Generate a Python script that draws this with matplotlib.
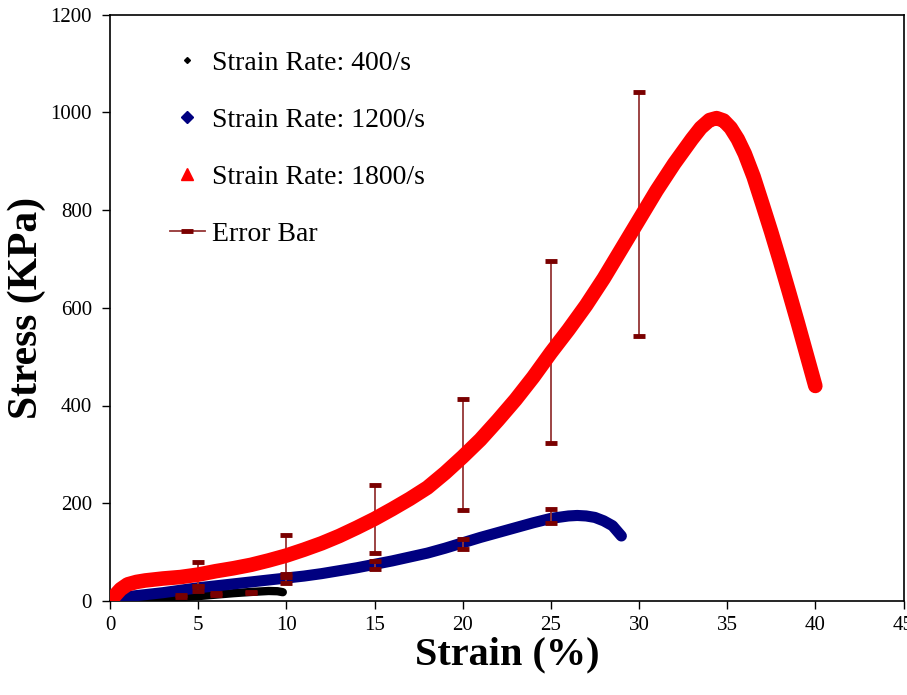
import matplotlib
matplotlib.use("Agg")
import matplotlib.pyplot as plt
from matplotlib.lines import Line2D

# Strain (%) / stress (KPa) curves for three strain rates
strain_400 = [0, 1, 2, 3, 4, 5, 6, 7, 8, 9, 9.5, 9.8]
stress_400 = [0, 2, 4, 6, 8, 10, 13, 16, 18.5, 20.5, 20, 18]

strain_1200 = [0, 0.5, 1, 2, 3, 4, 5, 6, 7, 8, 9, 10, 11, 12, 13, 14, 15, 16, 17,
               18, 19, 20, 21, 22, 23, 24, 25, 26, 26.5, 27, 27.5, 28, 28.5, 29]
stress_1200 = [0, 5, 9, 13, 17, 22, 27, 31, 35, 39, 43, 47, 51, 56, 62, 68, 75, 82, 90,
               98, 108, 119, 130, 140, 150, 160, 169, 174, 175, 174, 171, 164, 154, 133]

strain_1800 = [0, 0.3, 0.6, 1, 1.5, 2, 3, 4, 5, 6, 7, 8, 9, 10, 11, 12, 13, 14, 15,
               16, 17, 18, 19, 20, 21, 22, 23, 24, 25, 26, 27, 28, 29, 30, 31, 32,
               33, 33.5, 34, 34.4, 34.8, 35.2, 35.6, 36, 36.5, 37, 37.5, 38, 38.5, 39, 39.5, 40]
stress_1800 = [0, 12, 24, 34, 39, 42, 46, 49, 54, 61, 67, 74, 83, 93, 105, 118, 133, 150, 168,
               188, 209, 232, 262, 295, 330, 370, 412, 458, 508, 555, 605, 660, 720, 780, 840, 895,
               945, 968, 984, 988, 983, 968, 945, 915, 868, 812, 755, 695, 633, 570, 505, 440]

# Error bar extents (lower, upper)
err_x_400 = [4, 6, 8]
err_lo_400 = [9, 12, 16]
err_hi_400 = [12, 16, 19]

err_x_1200 = [5, 10, 15, 20, 25]
err_lo_1200 = [20, 37.5, 65.5, 106, 159]
err_hi_1200 = [31, 55, 82.5, 127, 189]

err_x_1800 = [5, 10, 15, 20, 25, 30]
err_lo_1800 = [30, 50, 97.5, 186, 324, 543]
err_hi_1800 = [80, 135, 237.5, 413, 696, 1042]

x_ticks = [0, 5, 10, 15, 20, 25, 30, 35, 40, 45]
y_ticks = [0, 200, 400, 600, 800, 1000, 1200]

serif = ["Liberation Serif", "DejaVu Serif"]
plt.rcParams["font.family"] = serif

fig = plt.figure(figsize=(9.07, 6.95), dpi=100)
ax = fig.add_axes([110 / 907, 1 - 601 / 695, 793.5 / 907, 586.5 / 695])

ERR_LINE = "#953535"
ERR_CAP = "#7a0000"


def draw_errors(xs, lo, hi, z):
    for x, a, b in zip(xs, lo, hi):
        ax.plot([x, x], [a, b], color=ERR_LINE, lw=1.3, zorder=z, solid_capstyle="butt")
        ax.plot([x, x], [a, b], linestyle="none", marker="_", markersize=9,
                markeredgewidth=3.5, color=ERR_CAP, zorder=z + 0.1)


ax.plot(strain_400, stress_400, color="black", lw=6, solid_capstyle="round", zorder=2)
ax.plot(strain_1200, stress_1200, color="#000080", lw=8, solid_capstyle="round", zorder=3)
draw_errors(err_x_400, err_lo_400, err_hi_400, 4)
draw_errors(err_x_1200, err_lo_1200, err_hi_1200, 4)
draw_errors(err_x_1800, err_lo_1800, err_hi_1800, 4)
ax.plot(strain_1800, stress_1800, color="#ff0000", lw=10.5, solid_capstyle="round",
        solid_joinstyle="round", zorder=6)

ax.set_xlim(0, 45)
ax.set_ylim(0, 1200)
ax.set_xticks(x_ticks)
ax.set_yticks(y_ticks)
ax.set_xticklabels([str(t) for t in x_ticks])
ax.set_yticklabels([str(t) for t in y_ticks])
ax.tick_params(axis="y", direction="out", length=6, width=1, labelsize=15, pad=7)
ax.tick_params(axis="x", direction="out", length=6, width=1, labelsize=15, pad=5)
for s in ax.spines.values():
    s.set_linewidth(1.2)

ax.set_xlabel("Strain (%)", fontsize=29, fontweight="bold", labelpad=1)
ax.set_ylabel("Stress (KPa)", fontsize=30, fontweight="bold", labelpad=3)

handles = [
    Line2D([], [], linestyle="none", marker="D", markersize=3, color="black"),
    Line2D([], [], linestyle="none", marker="D", markersize=6, color="#000080"),
    Line2D([], [], linestyle="none", marker="^", markersize=8, color="#ff0000"),
    Line2D([], [], color=ERR_LINE, lw=1.3, marker="_", markersize=9,
           markeredgewidth=3.5, markeredgecolor=ERR_CAP),
]
labels = ["Strain Rate: 400/s", "Strain Rate: 1200/s", "Strain Rate: 1800/s", "Error Bar"]
ax.legend(handles, labels, loc="upper left", bbox_to_anchor=(0.044, 0.981), frameon=False,
          fontsize=20, labelspacing=1.13, handlelength=1.26, handletextpad=0.25)

fig.savefig("out.png", dpi=100)
